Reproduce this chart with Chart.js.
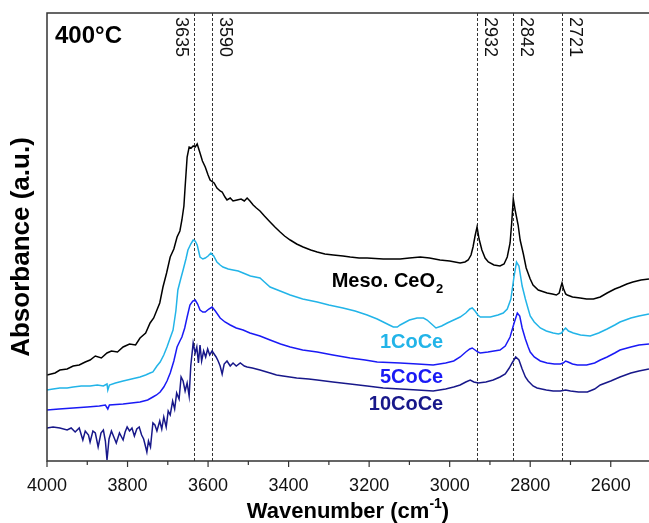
<!DOCTYPE html>
<html>
<head>
<meta charset="utf-8">
<script src="https://cdn.jsdelivr.net/npm/chart.js@4.4.1/dist/chart.umd.min.js"></script>
<style>
  html, body { margin: 0; padding: 0; background: #fff; }
  #wrap { position: relative; width: 649px; height: 523px; }
</style>
</head>
<body>
<div id="wrap"><canvas id="c" width="649" height="523"></canvas></div>
<script>
// ---------- data ----------
const xTickValues = [4000, 3800, 3600, 3400, 3200, 3000, 2800, 2600];
const peakPositions = [3635, 3590, 2932, 2842, 2721];
const peakLabels = ['3635', '3590', '2932', '2842', '2721'];
const seriesNames = ['Meso. CeO2', '1CoCe', '5CoCe', '10CoCe'];

const wnMeso = [4000,3980,3968,3950,3935,3920,3905,3893,3880,3865,3851,3840,3825,3811,3795,3780,3769,3755,3744,3735,3727,3720,3712,3703,3694,3685,3677,3670,3665,3660,3657,3652,3647,3642,3637,3632,3627,3620,3614,3607,3600,3595,3585,3578,3570,3565,3558,3553,3545,3538,3528,3518,3510,3503,3496,3488,3480,3471,3460,3446,3434,3421,3410,3396,3380,3364,3345,3329,3310,3289,3265,3247,3225,3205,3165,3123,3100,3073,3050,3024,3000,2974,2962,2954,2947,2942,2937,2932,2927,2920,2912,2904,2890,2875,2865,2857,2850,2846,2842,2837,2830,2825,2817,2810,2800,2793,2780,2758,2745,2735,2728,2724,2721,2717,2712,2708,2695,2676,2660,2643,2626,2609,2590,2577,2560,2545,2525,2505];
const absMeso = [0.86,0.88,0.91,0.92,0.95,0.96,0.99,1.01,1.05,1.03,1.08,1.10,1.09,1.14,1.17,1.16,1.23,1.28,1.38,1.43,1.51,1.58,1.74,1.88,2.04,2.12,2.24,2.30,2.41,2.55,2.74,3.04,3.14,3.13,3.15,3.14,3.17,3.08,3.00,2.94,2.86,2.81,2.78,2.73,2.70,2.69,2.64,2.61,2.63,2.60,2.61,2.62,2.60,2.63,2.60,2.56,2.53,2.50,2.45,2.39,2.34,2.29,2.25,2.21,2.17,2.14,2.11,2.09,2.07,2.06,2.05,2.04,2.03,2.03,2.02,2.02,2.03,2.04,2.03,2.01,2.00,1.98,1.99,2.01,2.06,2.14,2.25,2.34,2.22,2.11,2.03,1.99,1.96,1.95,1.97,2.04,2.18,2.38,2.62,2.50,2.36,2.21,2.07,1.93,1.82,1.76,1.71,1.68,1.67,1.66,1.68,1.74,1.78,1.72,1.67,1.66,1.64,1.63,1.62,1.62,1.64,1.68,1.72,1.74,1.77,1.79,1.81,1.82];

const wn1Co = [4000,3985,3968,3950,3935,3915,3893,3875,3860,3851,3849,3845,3830,3811,3790,3769,3755,3744,3737,3727,3719,3710,3702,3695,3687,3680,3675,3668,3662,3655,3650,3643,3637,3632,3627,3620,3613,3607,3600,3593,3586,3578,3570,3563,3550,3538,3525,3513,3495,3471,3460,3446,3421,3396,3365,3329,3300,3265,3235,3205,3180,3165,3150,3140,3130,3123,3100,3081,3065,3056,3045,3034,3020,3006,2990,2974,2960,2950,2944,2937,2930,2924,2910,2899,2880,2867,2857,2848,2840,2834,2828,2820,2812,2805,2800,2790,2775,2760,2743,2730,2722,2717,2712,2705,2693,2675,2651,2630,2609,2590,2577,2550,2530,2505];
const abs1Co = [0.71,0.72,0.73,0.73,0.74,0.75,0.75,0.76,0.75,0.77,0.71,0.76,0.78,0.80,0.82,0.84,0.86,0.88,0.89,0.95,0.99,1.06,1.14,1.22,1.31,1.50,1.71,1.82,1.91,2.02,2.11,2.17,2.21,2.20,2.16,2.04,2.02,2.03,2.05,2.08,2.05,1.99,1.96,1.94,1.92,1.91,1.90,1.88,1.85,1.83,1.79,1.74,1.70,1.66,1.62,1.59,1.56,1.53,1.50,1.46,1.42,1.39,1.36,1.34,1.34,1.36,1.41,1.43,1.43,1.41,1.37,1.33,1.35,1.38,1.41,1.44,1.48,1.52,1.53,1.50,1.46,1.44,1.44,1.44,1.46,1.48,1.52,1.62,1.85,1.99,1.95,1.75,1.62,1.52,1.45,1.39,1.33,1.30,1.28,1.27,1.28,1.31,1.33,1.30,1.28,1.26,1.25,1.28,1.32,1.36,1.39,1.43,1.45,1.47];

const wn5Co = [4000,3970,3935,3900,3870,3855,3849,3845,3811,3790,3769,3750,3737,3728,3719,3710,3702,3694,3685,3677,3670,3665,3658,3652,3645,3638,3632,3626,3620,3613,3607,3598,3590,3582,3570,3558,3545,3530,3513,3496,3471,3446,3420,3396,3365,3329,3290,3247,3210,3180,3123,3080,3041,3010,2990,2974,2960,2950,2944,2937,2930,2924,2905,2890,2875,2862,2850,2840,2832,2826,2820,2812,2805,2800,2790,2775,2758,2740,2725,2718,2712,2706,2695,2683,2660,2640,2626,2609,2590,2577,2550,2530,2505];
const abs5Co = [0.51,0.52,0.53,0.54,0.55,0.56,0.52,0.56,0.57,0.58,0.59,0.61,0.64,0.66,0.69,0.74,0.80,0.88,1.00,1.14,1.20,1.24,1.33,1.44,1.56,1.60,1.61,1.57,1.51,1.49,1.49,1.52,1.54,1.50,1.43,1.39,1.36,1.33,1.31,1.28,1.25,1.21,1.17,1.14,1.11,1.09,1.06,1.03,1.01,0.99,0.98,0.97,0.96,0.98,1.00,1.04,1.09,1.12,1.13,1.11,1.09,1.08,1.09,1.10,1.11,1.15,1.24,1.38,1.48,1.45,1.33,1.22,1.14,1.09,1.04,1.00,0.98,0.97,0.97,0.98,1.00,0.99,0.97,0.96,0.96,0.98,1.01,1.04,1.08,1.11,1.14,1.16,1.17];

const wn10Co = [4000,3985,3968,3950,3940,3930,3920,3911,3905,3897,3893,3886,3880,3873,3866,3860,3855,3851,3846,3840,3834,3828,3820,3811,3806,3801,3795,3789,3783,3777,3771,3765,3760,3755,3752,3748,3743,3737,3732,3727,3720,3715,3710,3704,3699,3694,3688,3683,3678,3672,3667,3662,3657,3652,3647,3643,3637,3632,3628,3624,3620,3616,3611,3606,3601,3596,3590,3585,3580,3575,3570,3565,3560,3553,3545,3538,3530,3520,3510,3503,3490,3471,3446,3430,3414,3380,3350,3329,3290,3247,3205,3165,3123,3080,3041,3010,2990,2974,2960,2949,2940,2929,2910,2892,2875,2862,2852,2845,2836,2828,2820,2812,2805,2793,2783,2760,2743,2725,2712,2700,2680,2658,2640,2626,2600,2577,2550,2530,2505];
const abs10Co = [0.33,0.34,0.33,0.31,0.33,0.29,0.33,0.21,0.30,0.26,0.19,0.30,0.28,0.14,0.28,0.31,0.20,0.01,0.22,0.30,0.24,0.18,0.28,0.21,0.29,0.34,0.30,0.33,0.25,0.32,0.34,0.26,0.22,0.14,0.09,0.20,0.14,0.38,0.36,0.30,0.40,0.32,0.44,0.34,0.50,0.46,0.60,0.52,0.68,0.62,0.84,0.80,0.70,0.78,0.65,0.95,1.18,1.08,1.14,0.98,1.16,1.00,1.10,1.04,1.12,1.06,1.10,1.07,1.04,1.00,0.95,0.87,0.97,1.00,0.95,0.98,0.95,0.98,0.95,0.94,0.93,0.91,0.88,0.86,0.85,0.83,0.82,0.81,0.79,0.77,0.75,0.73,0.72,0.71,0.70,0.72,0.74,0.76,0.79,0.81,0.79,0.78,0.79,0.81,0.84,0.87,0.93,0.98,1.04,1.01,0.92,0.84,0.80,0.75,0.73,0.71,0.70,0.70,0.71,0.70,0.69,0.69,0.72,0.76,0.80,0.84,0.88,0.90,0.92];

// label anchors (data units): right edge wavenumber, baseline absorbance
const labelAnchorWn = 3016;
const labelAnchorAbs = [1.74, 1.13, 0.78, 0.51];

// ---------- chart ----------
const FONT = '"Liberation Sans", Arial, Helvetica, sans-serif';
const colors = ['#000000', '#22b4e8', '#1a1af5', '#18188a'];

function pts(xs, ys) { return xs.map((v, i) => ({x: v, y: ys[i]})); }

const datasets = [
  {label: seriesNames[0], data: pts(wnMeso, absMeso)},
  {label: seriesNames[1], data: pts(wn1Co, abs1Co)},
  {label: seriesNames[2], data: pts(wn5Co, abs5Co)},
  {label: seriesNames[3], data: pts(wn10Co, abs10Co)}
].map((d, i) => Object.assign(d, {
  borderColor: colors[i], borderWidth: 1.5, pointRadius: 0, tension: 0, fill: false
}));

const annot = {
  id: 'annot',
  beforeDatasetsDraw(chart) {
    const {ctx, chartArea: a, scales: {x}} = chart;
    ctx.save();
    ctx.strokeStyle = '#333';
    ctx.lineWidth = 1;
    ctx.setLineDash([3, 2]);
    peakPositions.forEach(p => {
      const px = Math.round(x.getPixelForValue(p)) + 0.5;
      ctx.beginPath();
      ctx.moveTo(px, a.top);
      ctx.lineTo(px, a.bottom);
      ctx.stroke();
    });
    ctx.restore();
  },
  afterDatasetsDraw(chart) {
    const {ctx, chartArea: a, scales: {x, y}} = chart;
    ctx.save();
    // frame
    ctx.strokeStyle = '#333';
    ctx.lineWidth = 1.5;
    ctx.beginPath();
    ctx.moveTo(a.right + 2, a.top);
    ctx.lineTo(a.left, a.top);
    ctx.lineTo(a.left, a.bottom);
    ctx.lineTo(a.right + 2, a.bottom);
    ctx.stroke();
    // tick marks (major every 200, minor every 100)
    ctx.lineWidth = 1.2;
    for (let v = 4000; v >= 2600; v -= 100) {
      const px = x.getPixelForValue(v);
      const len = (v % 200 === 0) ? 6 : 4;
      ctx.beginPath();
      ctx.moveTo(px, a.bottom);
      ctx.lineTo(px, a.bottom + len);
      ctx.stroke();
    }
    // peak labels (rotated)
    ctx.fillStyle = '#111';
    ctx.font = '18px ' + FONT;
    ctx.textAlign = 'left';
    ctx.textBaseline = 'middle';
    peakPositions.forEach((p, i) => {
      const px = x.getPixelForValue(p) + (i === 0 ? -13 : 13);
      ctx.save();
      ctx.translate(px, a.top + 4);
      ctx.rotate(Math.PI / 2);
      ctx.fillText(peakLabels[i], 0, 0);
      ctx.restore();
    });
    // temperature
    ctx.textBaseline = 'alphabetic';
    ctx.fillStyle = '#000';
    ctx.font = 'bold 24px ' + FONT;
    ctx.fillText('400°C', a.left + 8, a.top + 30);
    // series labels
    const ax = x.getPixelForValue(labelAnchorWn);
    ctx.textAlign = 'right';
    ctx.font = 'bold 13px ' + FONT;
    const w2 = ctx.measureText('2').width;
    ctx.fillStyle = colors[0];
    ctx.fillText('2', ax, y.getPixelForValue(labelAnchorAbs[0]) + 6);
    ctx.font = 'bold 20px ' + FONT;
    ctx.fillText('Meso. CeO', ax - w2 - 1, y.getPixelForValue(labelAnchorAbs[0]));
    for (let i = 1; i < 4; i++) {
      ctx.fillStyle = colors[i];
      ctx.fillText(seriesNames[i], ax, y.getPixelForValue(labelAnchorAbs[i]));
    }
    // x title with superscript
    ctx.fillStyle = '#000';
    ctx.textAlign = 'left';
    const mainF = 'bold 22px ' + FONT, supF = 'bold 14px ' + FONT;
    ctx.font = mainF;
    const t1 = 'Wavenumber (cm', t3 = ')';
    const w1 = ctx.measureText(t1).width, w3 = ctx.measureText(t3).width;
    ctx.font = supF;
    const wsup = ctx.measureText('-1').width;
    const total = w1 + wsup + w3;
    let sx = (a.left + a.right) / 2 - total / 2;
    const by = 518;
    ctx.font = mainF; ctx.fillText(t1, sx, by);
    ctx.font = supF; ctx.fillText('-1', sx + w1, by - 10);
    ctx.font = mainF; ctx.fillText(t3, sx + w1 + wsup, by);
    // y title
    ctx.save();
    ctx.translate(22, 247);
    ctx.rotate(-Math.PI / 2);
    ctx.textAlign = 'center';
    ctx.textBaseline = 'middle';
    ctx.font = 'bold 26px ' + FONT;
    ctx.fillText('Absorbance (a.u.)', 0, 0);
    ctx.restore();
    ctx.restore();
  }
};

new Chart(document.getElementById('c'), {
  type: 'line',
  data: {datasets},
  options: {
    responsive: false,
    animation: false,
    events: [],
    layout: {padding: {left: 47, top: 13, right: 0, bottom: 0}},
    plugins: {legend: {display: false}, tooltip: {enabled: false}},
    scales: {
      x: {
        type: 'linear',
        reverse: true,
        min: 2505,
        max: 4000,
        border: {display: false},
        grid: {display: false},
        ticks: {
          stepSize: 200,
          includeBounds: false,
          autoSkip: false,
          maxRotation: 0,
          padding: 6,
          color: '#111',
          font: {size: 18, family: FONT},
          callback: v => (xTickValues.includes(v) ? String(v) : '')
        },
        afterFit(s) { s.height = 62; s.paddingLeft = 0; s.paddingRight = 0; }
      },
      y: {
        type: 'linear',
        display: false,
        min: 0,
        max: 4.48
      }
    }
  },
  plugins: [annot]
});
</script>
</body>
</html>
